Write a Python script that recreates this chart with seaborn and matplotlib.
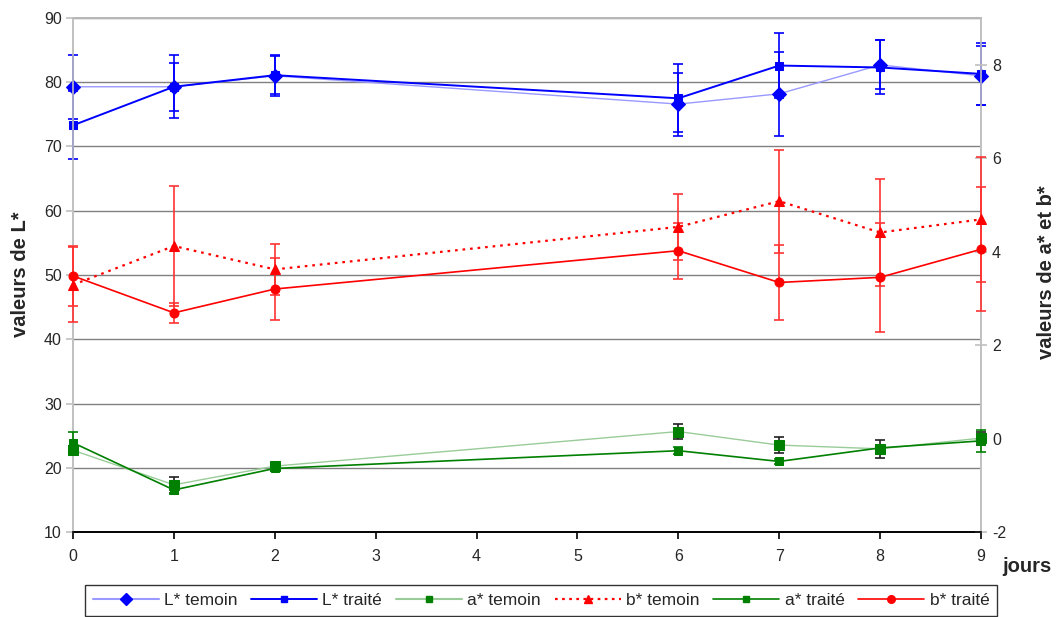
import numpy as np
import pandas as pd
import matplotlib
matplotlib.use("Agg")
import matplotlib.pyplot as plt
import seaborn as sns
from matplotlib.lines import Line2D

# ---- data ----
days = [0, 1, 2, 6, 7, 8, 9]

L_temoin = [79.3, 79.3, 81.0, 76.6, 78.2, 82.7, 81.0]
L_temoin_err = [5.0, 4.9, 3.2, 4.9, 6.5, 3.8, 4.6]
L_traite = [73.3, 79.3, 81.1, 77.5, 82.6, 82.3, 81.3]
L_traite_err = [5.3, 3.7, 3.0, 5.3, 5.0, 4.2, 4.8]

a_temoin = [-0.25, -0.99, -0.59, 0.15, -0.14, -0.22, 0.01]
a_temoin_err = [0.08, 0.17, 0.05, 0.16, 0.18, 0.19, 0.14]
a_traite = [-0.09, -1.10, -0.64, -0.26, -0.49, -0.20, -0.05]
a_traite_err = [0.24, 0.08, 0.05, 0.07, 0.05, 0.06, 0.24]

b_temoin = [3.29, 4.12, 3.62, 4.53, 5.08, 4.41, 4.69]
b_temoin_err = [0.80, 1.28, 0.54, 0.70, 1.10, 1.15, 1.33]
b_traite = [3.48, 2.69, 3.20, 4.02, 3.34, 3.45, 4.05]
b_traite_err = [0.65, 0.22, 0.66, 0.60, 0.80, 1.17, 1.33]

left_ticks = [10, 20, 30, 40, 50, 60, 70, 80, 90]
right_ticks = [-2, 0, 2, 4, 6, 8]
x_ticks = list(range(10))

sns.set_style("white")
plt.rcParams["font.family"] = ["Liberation Sans", "DejaVu Sans"]
plt.rcParams["axes.unicode_minus"] = False

fig = plt.figure(figsize=(10.59, 6.17), dpi=100)
ax = fig.add_axes([73 / 1059, 1 - 532 / 617, (981 - 73) / 1059, (532 - 18) / 617])
ax2 = ax.twinx()

BLUE = "#0000FF"
LBLUE = "#9999FF"
GREEN = "#008000"
LGREEN = "#99CC99"
RED = "#FF0000"
ERED = "#FF3333"

ax.set_ylim(10, 90)
ax.set_xlim(0, 9)
ax.set_yticks(left_ticks)
ax.set_xticks(x_ticks)
for v in left_ticks[1:]:
    ax.axhline(v, color="#808080", lw=1.0, zorder=0)


def ebar(a, y, e, color):
    c = a.errorbar(days, y, yerr=e, fmt="none", ecolor=color, capsize=3.8,
                   elinewidth=1.2, capthick=1.2, zorder=3)
    for art in c.get_children():
        art.set_clip_on(False)


# L* series (left axis)
ebar(ax, L_temoin, L_temoin_err, BLUE)
ebar(ax, L_traite, L_traite_err, BLUE)
sns.lineplot(x=days, y=L_temoin, ax=ax, color=LBLUE, lw=1.0, marker="D",
             markersize=7.5, markerfacecolor=BLUE, markeredgecolor=BLUE, zorder=4, clip_on=False)
sns.lineplot(x=days, y=L_traite, ax=ax, color=BLUE, lw=1.4, marker="s",
             markersize=5.5, markerfacecolor=BLUE, markeredgecolor=BLUE, zorder=4, clip_on=False)

# a*, b* (right axis)
ax2.set_ylim(-2, 9)
ax2.set_yticks(right_ticks)
ebar(ax2, b_temoin, b_temoin_err, ERED)
ebar(ax2, b_traite, b_traite_err, ERED)
ebar(ax2, a_temoin, a_temoin_err, "#202020")
ebar(ax2, a_traite, a_traite_err, GREEN)
sns.lineplot(x=days, y=b_temoin, ax=ax2, color=RED, lw=1.6, linestyle=(0, (1.2, 2.2)),
             marker="^", markersize=6.5, markerfacecolor=RED, markeredgecolor=RED, zorder=4, clip_on=False)
sns.lineplot(x=days, y=b_traite, ax=ax2, color=RED, lw=1.2, marker="o",
             markersize=6.5, markerfacecolor=RED, markeredgecolor=RED, zorder=4, clip_on=False)
sns.lineplot(x=days, y=a_temoin, ax=ax2, color=LGREEN, lw=1.0, marker="s",
             markersize=6.5, markerfacecolor=GREEN, markeredgecolor=GREEN, zorder=4, clip_on=False)
sns.lineplot(x=days, y=a_traite, ax=ax2, color=GREEN, lw=1.2, marker="s",
             markersize=5.5, markerfacecolor=GREEN, markeredgecolor=GREEN, zorder=4, clip_on=False)

# spines / ticks
for a in (ax, ax2):
    for s in ("left", "right", "top"):
        a.spines[s].set_color("#C0C0C0")
        a.spines[s].set_linewidth(1.2)
    a.spines["bottom"].set_color("black")
    a.spines["bottom"].set_linewidth(1.2)
ax.spines["top"].set_color("#808080")
ax.tick_params(axis="y", which="major", direction="out", length=5, color="#C0C0C0",
               width=1.2, labelsize=11.5, pad=3, left=True)
ax.tick_params(axis="x", which="major", direction="out", length=5, color="black",
               width=1.2, labelsize=11.5, pad=7, bottom=True)
ax2.tick_params(axis="y", which="major", direction="inout", length=8, color="#C0C0C0",
                width=1.2, labelsize=11.5, pad=4, right=True)
ax.set_xlabel("")
ax.set_ylabel("")
ax2.set_ylabel("")

fig.text(21 / 1059, 1 - 274 / 617, "valeurs de L*", rotation=90, ha="center",
         va="center", fontsize=14.5, fontweight="bold")
fig.text(1046 / 1059, 1 - 272 / 617, "valeurs de a* et b*", rotation=90, ha="center",
         va="center", fontsize=14.5, fontweight="bold")
fig.text(1027 / 1059, 1 - 566 / 617, "jours", ha="center", va="center",
         fontsize=14.5, fontweight="bold")

handles = [
    Line2D([], [], color=LBLUE, lw=1.5, marker="D", markersize=6, markerfacecolor=BLUE, markeredgecolor=BLUE),
    Line2D([], [], color=BLUE, lw=1.4, marker="s", markersize=5, markerfacecolor=BLUE, markeredgecolor=BLUE),
    Line2D([], [], color=LGREEN, lw=1.5, marker="s", markersize=5, markerfacecolor=GREEN, markeredgecolor=GREEN),
    Line2D([], [], color=RED, lw=1.6, linestyle=(0, (1.2, 2.0)), marker="^", markersize=6, markerfacecolor=RED, markeredgecolor=RED),
    Line2D([], [], color=GREEN, lw=1.2, marker="s", markersize=5, markerfacecolor=GREEN, markeredgecolor=GREEN),
    Line2D([], [], color=RED, lw=1.2, marker="o", markersize=5.5, markerfacecolor=RED, markeredgecolor=RED),
]
labels = ["L* temoin", "L* traité", "a* temoin", "b* temoin", "a* traité", "b* traité"]
leg = fig.legend(handles, labels, loc="upper center", bbox_to_anchor=(541 / 1059, 1 - 585 / 617),
                 ncol=6, frameon=True, fancybox=False, edgecolor="black", fontsize=12.5,
                 handlelength=3.8, handletextpad=0.3, columnspacing=0.8, borderpad=0.45,
                 borderaxespad=0.0)
leg.get_frame().set_linewidth(1.0)
for ln in (ax.get_legend(), ax2.get_legend()):
    if ln is not None:
        ln.remove()

fig.savefig("out.png", dpi=100)
